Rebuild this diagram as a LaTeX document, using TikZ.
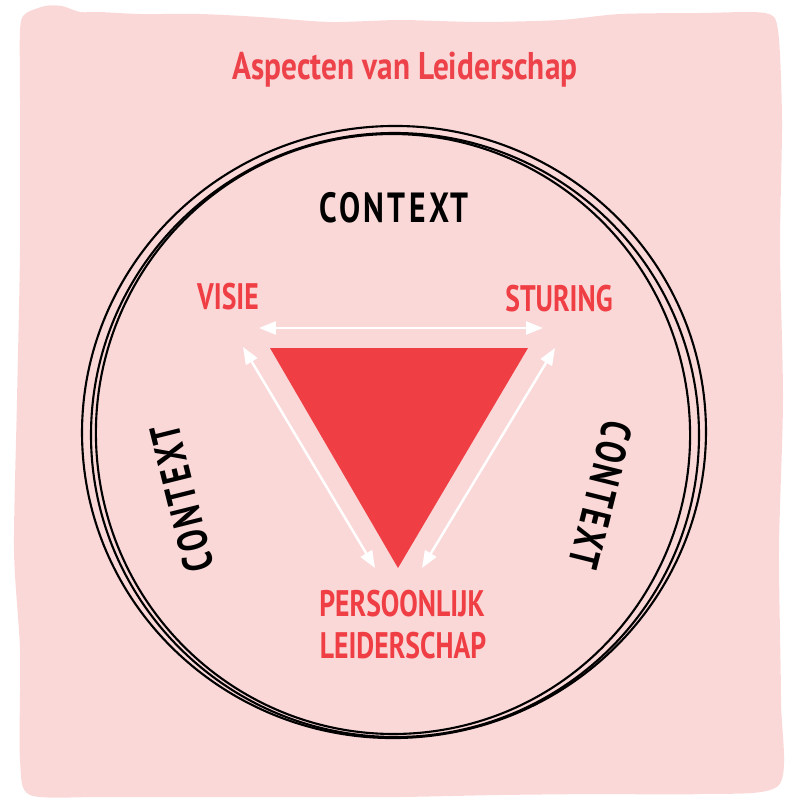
\documentclass[tikz,border=0pt]{standalone}
\usepackage{fontspec}
\usetikzlibrary{arrows.meta}
\newfontfamily\handfont[FakeStretch=0.75]{PT Sans}
\newfontfamily\contextfont[FakeStretch=0.75,LetterSpace=8]{PT Sans}
\newfontfamily\titelfont[FakeStretch=0.81]{PT Sans}
\definecolor{achtergrondroze}{RGB}{251,216,216}
\definecolor{leiderrood}{RGB}{239,62,68}
\definecolor{titelrood}{RGB}{238,66,74}

\begin{document}
\begin{tikzpicture}[x=0.02cm,y=-0.02cm,
	kop/.style={text=leiderrood,font=\handfont\bfseries\fontsize{21}{25}\selectfont},
	context/.style={text=black,font=\contextfont\bfseries\fontsize{24}{28}\selectfont},
	cirkel/.style={line width=1.2pt,black},
	pijl/.style={white,line width=1.4pt,{Triangle[length=3.4mm,width=2.6mm]}-{Triangle[length=3.4mm,width=2.6mm]}}]
		\useasboundingbox (0,0) rectangle (787,798);
		\fill[achtergrondroze] plot[smooth cycle,tension=0.45] coordinates {(25,14) (45,6) (62,6) (80,12) (100,12) (140,14) (200,14) (260,17) (330,22) (400,20) (480,22) (560,20) (620,14) (700,13) (765,13) (778,30) (782,120) (780,250) (783,400) (779,550) (781,700) (779,785) (700,794) (600,794) (500,795) (400,797) (300,797) (200,797) (100,797) (30,795) (20,760) (20,650) (14,550) (17,400) (20,250) (20,100) (20,30)};
		\node[text=titelrood,font=\titelfont\bfseries\fontsize{22}{26}\selectfont] (titel) at (405,70) {Aspecten van Leiderschap};
		\draw[cirkel,rotate around={4:(394,432)}] (394,432) ellipse (312 and 306);
		\draw[cirkel,rotate around={-3:(395,435)}] (395,435) ellipse (304 and 302);
		\draw[cirkel,rotate around={8:(393,434)}] (393,434) ellipse (297 and 300);
		\fill[leiderrood] (270,348) -- (528,348) -- (398,568) -- cycle;
		\node[kop] (visie) at (228,297) {VISIE};
		\node[kop] (sturing) at (559,299) {STURING};
		\node[kop] (persoonlijk) at (402,604) {PERSOONLIJK};
		\node[kop] (leiderschap) at (403,646) {LEIDERSCHAP};
		\coordinate (visieR) at (259,328);
		\coordinate (visieO) at (243,347);
		\coordinate (sturingL) at (543,328);
		\coordinate (sturingO) at (555,348);
		\coordinate (leiderL) at (375,568);
		\coordinate (leiderR) at (422,568);
		\draw[pijl] (visieR) -- (sturingL);
		\draw[pijl] (visieO) -- (leiderL);
		\draw[pijl] (sturingO) -- (leiderR);
		\node[context] (contextboven) at (394,208) {CONTEXT};
		\node[context,rotate=104] (contextlinks) at (182,498) {CONTEXT};
		\node[context,rotate=-104] (contextrechts) at (601,495) {CONTEXT};
	\end{tikzpicture}
\end{document}
